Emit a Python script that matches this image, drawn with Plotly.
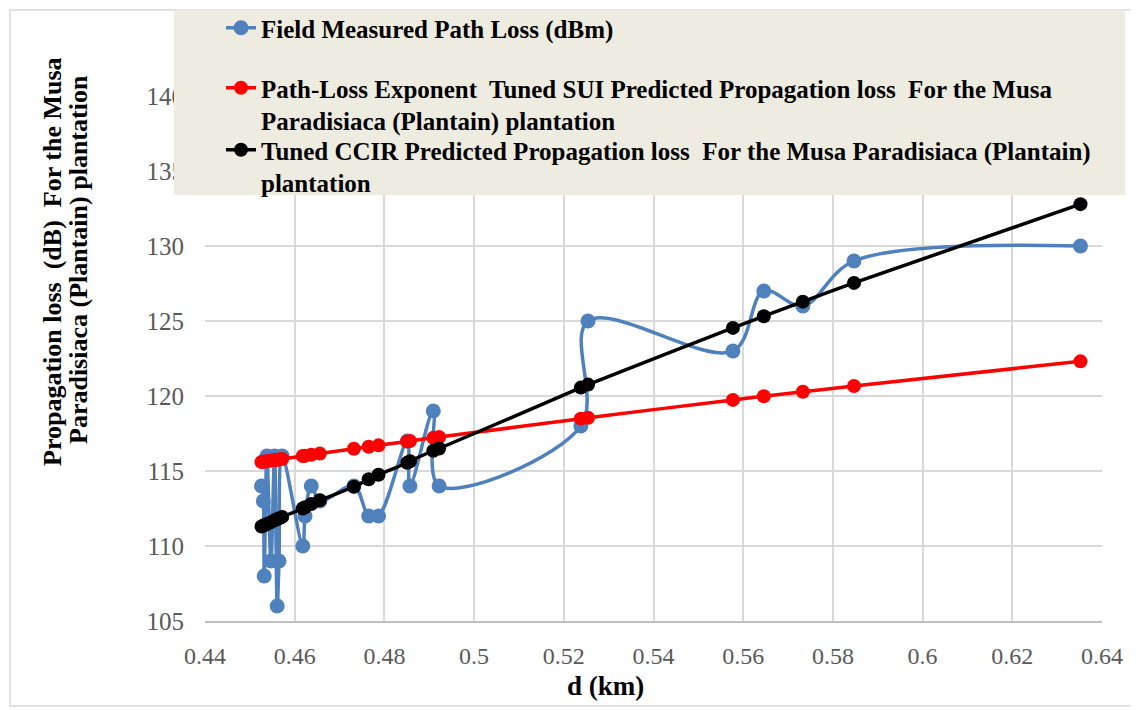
import plotly.graph_objects as go

# ---- data ----
distance_km = [0.4526, 0.4530, 0.4532, 0.4538, 0.4547, 0.4555, 0.4561, 0.4565, 0.4572,
               0.4618, 0.4623, 0.4637, 0.4656, 0.4732, 0.4765, 0.4787, 0.4851, 0.4857,
               0.4909, 0.4922, 0.5238, 0.5254, 0.5577, 0.5646, 0.5733, 0.5847, 0.6352]
field_measured = [114, 113, 108, 116, 109, 116, 106, 109, 116,
                  110, 112, 114, 113, 114, 112, 112, 117, 114,
                  119, 114, 118, 125, 123, 127, 126, 129, 130]
sui_tuned = [115.60, 115.62, 115.63, 115.65, 115.69, 115.73, 115.75, 115.77, 115.80,
             116.00, 116.02, 116.08, 116.16, 116.48, 116.62, 116.71, 116.97, 117.00,
             117.21, 117.26, 118.49, 118.55, 119.74, 119.98, 120.28, 120.67, 122.31]
ccir_tuned = [111.30, 111.36, 111.38, 111.47, 111.59, 111.71, 111.79, 111.84, 111.94,
              112.50, 112.58, 112.80, 113.05, 113.95, 114.45, 114.75, 115.55, 115.65,
              116.35, 116.50, 120.56, 120.76, 124.54, 125.32, 126.29, 127.54, 132.79]

series_names = [
    "Field Measured Path Loss (dBm)",
    "Path-Loss Exponent  Tuned SUI Predicted Propagation loss  For the Musa<br>Paradisiaca (Plantain) plantation",
    "Tuned CCIR Predicted Propagation loss  For the Musa Paradisiaca (Plantain)<br>plantation",
]
x_ticks = [0.44, 0.46, 0.48, 0.50, 0.52, 0.54, 0.56, 0.58, 0.60, 0.62, 0.64]
x_tick_labels = ["0.44", "0.46", "0.48", "0.5", "0.52", "0.54", "0.56", "0.58", "0.6", "0.62", "0.64"]
y_ticks = [105, 110, 115, 120, 125, 130, 135, 140]
y_tick_labels = ["105", "110", "115", "120", "125", "130", "135", "140"]
x_title = "d (km)"
y_title_lines = ["Propagation loss  (dB)  For the Musa", "Paradisiaca (Plantain) plantation"]

# ---- figure (page offset of 8px from the default body margin) ----
OFF = 8
W, H = 1139 - OFF, 710 - OFF
# plot area in page pixels: x 205..1102, y 96..621
L = 205 - OFF
R = W - (1102 - OFF)
T = 96 - OFF
B = H - (621 - OFF)
pw, ph = W - L - R, H - T - B


def px_x(p):
    return (p - OFF - L) / pw


def px_y(p):
    return (H - B - (p - OFF)) / ph


SERIF = "Liberation Serif"
colors = ["#4F81BD", "#FF0000", "#000000"]
marker_sizes = [15, 14, 14]
ys = [field_measured, sui_tuned, ccir_tuned]
legend_ids = ["legend", "legend2", "legend3"]

fig = go.Figure()
for i in range(3):
    fig.add_trace(go.Scatter(
        x=distance_km, y=ys[i], name=series_names[i],
        mode="lines+markers",
        line=dict(color=colors[i], width=3.5, shape="spline", smoothing=1),
        marker=dict(color=colors[i], size=marker_sizes[i]),
        legend=legend_ids[i],
    ))

legend_common = dict(
    bgcolor="rgba(0,0,0,0)", borderwidth=0,
    font=dict(family=SERIF, size=25, color="#000000", weight="bold"),
    xanchor="left", yanchor="top", valign="top",
    itemwidth=30,
)
legend_tops = [5, 65, 127]

layout_legends = {}
for lid, top in zip(legend_ids, legend_tops):
    layout_legends[lid] = dict(legend_common, x=px_x(221), y=px_y(top))

fig.update_layout(
    width=W, height=H,
    margin=dict(l=L, r=R, t=T, b=B, autoexpand=False),
    paper_bgcolor="white", plot_bgcolor="white",
    showlegend=True,
    **layout_legends,
    xaxis=dict(
        range=[0.44, 0.64], tickvals=x_ticks, ticktext=x_tick_labels,
        showgrid=True, gridcolor="#D9D9D9", gridwidth=2,
        showline=True, linecolor="#BFBFBF", linewidth=2,
        zeroline=False, ticks="",
        tickfont=dict(family=SERIF, size=24, color="#595959"),
        ticklabelstandoff=12,
    ),
    yaxis=dict(
        range=[105, 140], tickvals=y_ticks, ticktext=y_tick_labels,
        showgrid=True, gridcolor="#D9D9D9", gridwidth=2,
        showline=False, zeroline=False, ticks="",
        tickfont=dict(family=SERIF, size=25, color="#595959"),
        ticklabelstandoff=20,
    ),
    shapes=[
        # chart border
        dict(type="rect", xref="paper", yref="paper",
             x0=px_x(10), x1=px_x(1136), y0=px_y(706), y1=px_y(10),
             line=dict(color="#D9D9D9", width=1.5), fillcolor="rgba(0,0,0,0)",
             layer="below"),
        # legend background box (covers data like in the reference)
        dict(type="rect", xref="paper", yref="paper",
             x0=px_x(174), x1=px_x(1125), y0=px_y(195), y1=px_y(10),
             line=dict(width=0), fillcolor="#EEECE1", layer="above"),
    ],
    annotations=[
        dict(text=y_title_lines[0], xref="paper", yref="paper",
             x=px_x(52), y=px_y(262), textangle=-90, showarrow=False,
             xanchor="center", yanchor="middle",
             font=dict(family=SERIF, size=26, color="#000000", weight="bold")),
        dict(text=y_title_lines[1], xref="paper", yref="paper",
             x=px_x(78), y=px_y(260), textangle=-90, showarrow=False,
             xanchor="center", yanchor="middle",
             font=dict(family=SERIF, size=26, color="#000000", weight="bold")),
        dict(text=x_title, xref="paper", yref="paper",
             x=px_x(605), y=px_y(686), showarrow=False,
             xanchor="center", yanchor="middle",
             font=dict(family=SERIF, size=27, color="#000000", weight="bold")),
    ],
)

fig.write_html("out.html")
